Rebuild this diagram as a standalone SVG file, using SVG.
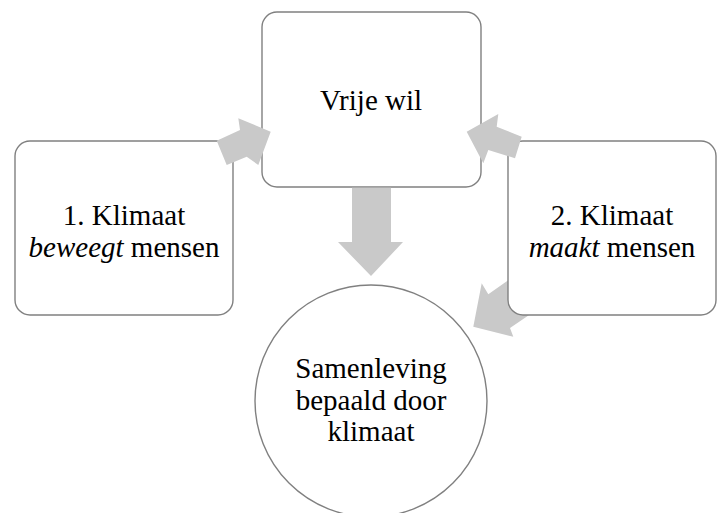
<svg xmlns="http://www.w3.org/2000/svg" width="717" height="513" viewBox="0 0 717 513">
<style>
.box{fill:#ffffff;stroke:#808080;stroke-width:1.4}
.arr{fill:#c9c9c9;stroke:none}
text{font-family:"Liberation Serif","Times New Roman",serif;font-size:29px;fill:#000000;text-anchor:middle}
.i{font-style:italic}
</style>
<rect width="717" height="513" fill="#ffffff"/>
<g id="node-samenleving">
<circle class="box" cx="371" cy="401" r="116"/>
<text x="371" y="378">Samenleving</text>
<text x="371" y="410">bepaald door</text>
<text x="371" y="441">klimaat</text>
</g>
<g id="connectors-back">
<polygon class="arr" points="473.3,326.7 481.7,283.3 488.3,294.3 513,277 535,311 510,328 513.3,336.7"/>
</g>
<g id="node-klimaat-maakt">
<rect class="box" x="508" y="141" width="208" height="174" rx="15"/>
<text x="612" y="225">2. Klimaat</text>
<text x="612" y="257"><tspan class="i">maakt</tspan> mensen</text>
</g>
<g id="node-klimaat-beweegt">
<rect class="box" x="15" y="141" width="218" height="174" rx="15"/>
<text x="124" y="225">1. Klimaat</text>
<text x="124" y="257"><tspan class="i">beweegt</tspan> mensen</text>
</g>
<g id="node-vrije-wil">
<rect class="box" x="262" y="12" width="219" height="175" rx="15"/>
<text x="371" y="110">Vrije wil</text>
</g>
<g id="connectors">
<polygon class="arr" points="352,187.7 391,187.7 391,242 403,242 371,276 338,242 352,242"/>
<polygon class="arr" points="216.7,140.7 240,130 238.3,118.3 270.7,131.7 258.3,165 246.7,156.7 226.7,165"/>
<polygon class="arr" points="466.7,131.7 498.3,114 496.7,126.7 521.7,136.7 515,158.3 488.3,150 483.3,163.3"/>
</g>
</svg>
